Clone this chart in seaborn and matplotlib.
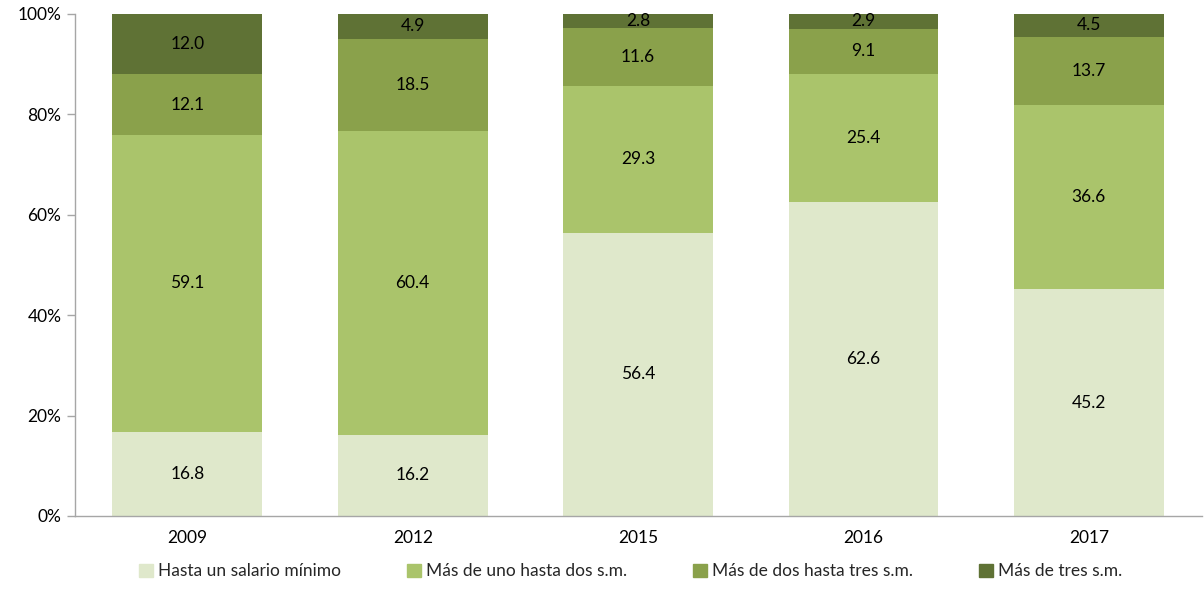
import numpy as np
import pandas as pd
import matplotlib.pyplot as plt
import matplotlib.patches as mpatches
from matplotlib.ticker import FixedLocator, PercentFormatter
import seaborn as sns

# data
years = ['2009', '2012', '2015', '2016', '2017']
hasta_uno = [16.8, 16.2, 56.4, 62.6, 45.2]
uno_a_dos = [59.1, 60.4, 29.3, 25.4, 36.6]
dos_a_tres = [12.1, 18.5, 11.6, 9.1, 13.7]
mas_de_tres = [12.0, 4.9, 2.8, 2.9, 4.5]

series_names = ['Hasta un salario mínimo', 'Más de uno hasta dos s.m.',
                'Más de dos hasta tres s.m.', 'Más de tres s.m.']
colors = ['#DFE8CB', '#AAC46B', '#8AA14B', '#5F7235']

sns.set_style('white')
plt.rcParams['font.family'] = ['Lato', 'DejaVu Sans']

df = pd.DataFrame({'year': years,
                   series_names[0]: hasta_uno,
                   series_names[1]: uno_a_dos,
                   series_names[2]: dos_a_tres,
                   series_names[3]: mas_de_tres})

fig = plt.figure(figsize=(12.04, 6.07), dpi=100)
ax = fig.add_axes([0.062, 0.150, 0.936, 0.827])

# stacked bars: draw cumulative totals from the top series down
cum = df[series_names].cumsum(axis=1)
for name, col in reversed(list(zip(series_names, colors))):
    sns.barplot(x=df['year'], y=cum[name].clip(upper=100), color=col,
                width=0.665, saturation=1, ax=ax, linewidth=0)

# value labels in the middle of each segment
for i in range(len(years)):
    base = 0
    for name in series_names:
        v = df[name][i]
        mid = min(base + v / 2, 100 - 1.4) if v < 4 else base + v / 2
        ax.text(i, mid, f'{v:.1f}', ha='center', va='center', fontsize=12.5, color='black')
        base += v

ax.set_xlim(-0.5, len(years) - 0.5)
ax.set_ylim(0, 100)
ax.set_xlabel('')
ax.set_ylabel('')
ax.set_yticks(range(0, 101, 20))
ax.yaxis.set_major_formatter(PercentFormatter(decimals=0))
ax.tick_params(axis='both', labelsize=12.5, colors='black')
ax.tick_params(axis='x', which='major', length=0, pad=10)
ax.xaxis.set_minor_locator(FixedLocator(np.arange(-0.5, len(years), 1.0)))
ax.tick_params(axis='x', which='minor', length=6, color='#A6A6A6', width=1)
ax.tick_params(axis='y', length=6, color='#A6A6A6', width=1, left=True)

sns.despine(ax=ax)
for s in ['left', 'bottom']:
    ax.spines[s].set_color('#A6A6A6')
    ax.spines[s].set_linewidth(1)

handles = [mpatches.Patch(color=c, label=n) for n, c in zip(series_names, colors)]
fig.legend(handles=handles, loc='center', bbox_to_anchor=(0.524, 0.059), ncol=4,
           frameon=False, fontsize=12.5, handlelength=0.8, handleheight=0.8,
           handletextpad=0.3, columnspacing=3.8)

fig.savefig('out.png', dpi=100)
